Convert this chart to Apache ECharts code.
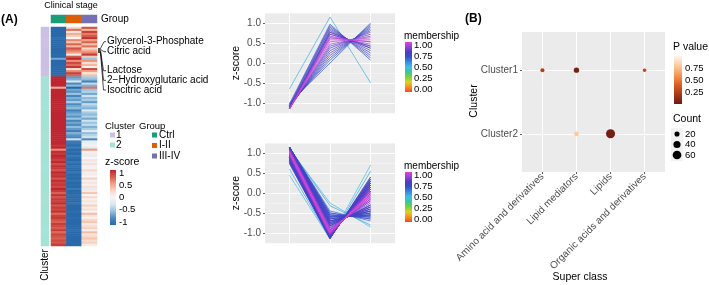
<!DOCTYPE html>
<html>
<head>
<meta charset="utf-8">
<script src="https://cdn.jsdelivr.net/npm/echarts@6.0.0/dist/echarts.min.js"></script>
<style>
html, body { margin: 0; padding: 0; background: #fff; }
#chart { width: 709px; height: 285px; }
</style>
</head>
<body>
<div id="chart"></div>
<script>
var stages = ['Ctrl', 'I-II', 'III-IV']

// cluster 1 metabolites: z-score per stage and fuzzy membership
var c1Ctrl = [-1.10, -1.14, -1.06, -1.15, -1.12, -1.00, -1.15, -1.13, -1.13, -1.14, -1.10, -1.15,
              -1.15, -1.03, -1.12, -0.65, -1.15, -1.08, -1.14, -1.03, -1.08, -1.15, -1.06, -1.13]
var c1Early = [0.25, 0.72, 0.13, 0.47, 0.31, 0.00, 0.63, 0.37, 0.77, 0.42, 0.85, 0.67,
               0.53, 0.07, 0.81, 1.15, 0.58, 0.89, 0.72, 0.97, 0.19, 0.63, 0.93, 0.77]
var c1Late = [0.85, 0.42, 0.93, 0.67, 0.81, 1.00, 0.53, 0.77, 0.37, 0.72, 0.25, 0.47,
              0.63, 0.97, 0.31, -0.50, 0.58, 0.19, 0.42, 0.07, 0.89, 0.53, 0.13, 0.37]
var c1Member = [0.77, 0.84, 0.73, 0.88, 0.79, 0.69, 0.94, 0.81, 0.81, 0.84, 0.77, 0.88,
                0.94, 0.71, 0.79, 0.53, 0.98, 0.75, 0.84, 0.71, 0.75, 0.94, 0.73, 0.81]

// cluster 2 metabolites
var c2Ctrl = [1.15, 1.15, 1.10, 1.13, 1.15, 0.45, 1.15, 1.14, 1.15, 1.12,
              1.15, 1.15, 1.15, 1.13, 1.15, 1.15, 1.10, 1.15, 1.15, 1.14,
              1.15, 1.12, 1.15, 1.13, 1.15, 1.15, 1.08, 1.15, 1.14, 1.12,
              1.12, 1.07, 1.05, 0.97, 1.08, 0.60, 1.02, 0.95, 1.07, 1.00,
              0.92, 1.05, 0.88, 1.02, 0.97, 0.85, 1.05, 0.95, 1.00, 0.82,
              1.02, 0.92, 0.97, 0.88, 1.07, 0.95, 0.78, 1.00, 0.85, 0.97,
              0.92, 1.02, 0.82, 0.95, 0.88, 1.00, 0.74, 0.92, 0.97, 0.85,
              0.78, 0.95, 0.88, 0.82, 0.97, 0.74, 0.92, 0.85, 0.78, 0.88,
              0.82, 0.95]
var c2Early = [-0.70, -0.60, -0.25, -0.78, -0.55, -1.15, -0.65, -0.74, -0.50, -0.82,
               -0.60, -0.70, -0.45, -0.78, -0.65, -0.55, -0.85, -0.70, -0.60, -0.74,
               -0.50, -0.82, -0.65, -0.78, -0.55, -0.70, -0.88, -0.60, -0.74, -0.82,
               -0.32, -0.92, -0.95, -1.02, -0.88, -1.15, -0.97, -1.05, -0.92, -1.00,
               -1.07, -0.95, -1.08, -0.97, -1.02, -1.10, -0.95, -1.05, -1.00, -1.12,
               -0.97, -1.07, -1.02, -1.08, -0.92, -1.05, -1.13, -1.00, -1.10, -1.02,
               -1.07, -0.97, -1.12, -1.05, -1.08, -1.00, -1.14, -1.07, -1.02, -1.10,
               -1.13, -1.05, -1.08, -1.12, -1.02, -1.14, -1.07, -1.10, -1.13, -1.08,
               -1.12, -1.05]
var c2Late = [-0.45, -0.55, -0.85, -0.35, -0.60, 0.70, -0.50, -0.40, -0.65, -0.30,
              -0.55, -0.45, -0.70, -0.35, -0.50, -0.60, -0.25, -0.45, -0.55, -0.40,
              -0.65, -0.30, -0.50, -0.35, -0.60, -0.45, -0.20, -0.55, -0.40, -0.30,
              -0.80, -0.15, -0.10, 0.05, -0.20, 0.55, -0.05, 0.10, -0.15, 0.00,
              0.15, -0.10, 0.20, -0.05, 0.05, 0.25, -0.10, 0.10, 0.00, 0.30,
              -0.05, 0.15, 0.05, 0.20, -0.15, 0.10, 0.35, 0.00, 0.25, 0.05,
              0.15, -0.05, 0.30, 0.10, 0.20, 0.00, 0.40, 0.15, 0.05, 0.25,
              0.35, 0.10, 0.20, 0.30, 0.05, 0.40, 0.15, 0.25, 0.35, 0.20,
              0.30, 0.10]
var c2Member = [0.76, 0.74, 0.52, 0.79, 0.72, 0.50, 0.75, 0.77, 0.70, 0.81,
                0.74, 0.76, 0.68, 0.79, 0.75, 0.72, 0.83, 0.76, 0.74, 0.77,
                0.70, 0.81, 0.75, 0.79, 0.72, 0.76, 0.86, 0.74, 0.77, 0.81,
                0.55, 0.90, 0.95, 0.90, 0.86, 0.56, 0.98, 0.86, 0.90, 0.95,
                0.83, 0.95, 0.81, 0.98, 0.90, 0.79, 0.95, 0.86, 0.95, 0.77,
                0.98, 0.83, 0.90, 0.81, 0.90, 0.86, 0.76, 0.95, 0.79, 0.90,
                0.83, 0.98, 0.77, 0.86, 0.81, 0.95, 0.75, 0.83, 0.90, 0.79,
                0.76, 0.86, 0.81, 0.77, 0.90, 0.75, 0.83, 0.79, 0.76, 0.81,
                0.77, 0.86]

var zTicks = [-1, -0.5, 0, 0.5, 1]
var memberTicks = [1, 0.75, 0.5, 0.25, 0]
var heatTicks = [1, 0.5, 0, -0.5, -1]

// enrichment (B)
var superClasses = ['Amino acid and derivatives', 'Lipid mediators', 'Lipids', 'Organic acids and derivatives']
var c1Pval = [0.22, 0.04, null, 0.28]
var c1Count = [12, 22, null, 9]
var c2Pval = [0.99, 0.80, 0.03, 0.99]
var c2Count = [7, 18, 65, 6]
var pTicks = [0.75, 0.5, 0.25]
var countTicks = [20, 40, 60]

var FONT = '"Liberation Sans", Arial, Helvetica, sans-serif'
var rdbu = ['#2A69A9', '#4A8AC0', '#96C1DD', '#D8E7F1', '#F6F6F6', '#FAD6C6', '#F1A285', '#D65F4C', '#BD2631']
var memberStops = [[0, '#F04A1E'], [0.1, '#F7901E'], [0.2, '#E0D020'], [0.3, '#78D236'], [0.4, '#36C89E'],
                   [0.5, '#3CC0E6'], [0.6, '#3A8CE0'], [0.7, '#3452C8'], [0.8, '#4C3CC2'], [0.9, '#9444D4'], [1, '#E244DA']]
var pStops = [[0, '#6A1B12'], [0.2, '#A73A1A'], [0.4, '#DA5E22'], [0.55, '#F08A45'], [0.75, '#FDBD8A'], [0.9, '#FEE0C8'], [1, '#FFF3E8']]

function hexRgb(h) {
    return [parseInt(h.slice(1, 3), 16), parseInt(h.slice(3, 5), 16), parseInt(h.slice(5, 7), 16)]
}
function stopColor(stops, t) {
    t = Math.max(stops[0][0], Math.min(stops[stops.length - 1][0], t))
    for (var k = 1; k < stops.length; k++) {
        if (t <= stops[k][0]) {
            var a = stops[k - 1], b = stops[k], f = (t - a[0]) / (b[0] - a[0])
            var ca = hexRgb(a[1]), cb = hexRgb(b[1])
            return 'rgb(' + [0, 1, 2].map(function (j) { return Math.round(ca[j] + (cb[j] - ca[j]) * f) }).join(',') + ')'
        }
    }
    return stops[stops.length - 1][1]
}
function symSize(c) { return 1.1 * Math.sqrt(c) + 0.2 }

// heatmap data
var rowsCtrl = c1Ctrl.concat(c2Ctrl)
var rowsEarly = c1Early.concat(c2Early)
var rowsLate = c1Late.concat(c2Late)
var rowIds = rowsCtrl.map(function (v, i) { return i })
var heatData = [], clusterData = []
for (var i = 0; i < rowsCtrl.length; i++) {
    heatData.push([0, i, rowsCtrl[i]], [1, i, rowsEarly[i]], [2, i, rowsLate[i]])
    clusterData.push([0, i, i < c1Ctrl.length ? 1 : 2])
}

// bubble data
var bubbleData = []
for (var j = 0; j < superClasses.length; j++) {
    if (c1Pval[j] != null) bubbleData.push([j + 1, 2, c1Pval[j], c1Count[j]])
    if (c2Pval[j] != null) bubbleData.push([j + 1, 1, c2Pval[j], c2Count[j]])
}

function lineSeries(ctrl, early, late, member, xi, yi) {
    var order = member.map(function (m, k) { return k }).sort(function (a, b) { return member[a] - member[b] })
    return order.map(function (k) {
        return {
            type: 'line', xAxisIndex: xi, yAxisIndex: yi, silent: true, animation: false,
            showSymbol: false, symbol: 'none',
            data: [[1, ctrl[k]], [2, early[k]], [3, late[k]]],
            lineStyle: { width: 0.7, color: stopColor(memberStops, member[k]) }
        }
    })
}

function txt(x, y, s, o) {
    o = o || {}
    return {
        type: 'text', x: x, y: y, rotation: o.rot || 0, silent: true, z: 100,
        style: {
            text: s, fontSize: o.size || 10, fontFamily: FONT, fontWeight: o.bold ? 'bold' : 'normal',
            fill: o.color || '#000', align: o.align || 'left', verticalAlign: 'middle'
        }
    }
}
function box(x, y, w, h, color) {
    return { type: 'rect', silent: true, z: 100, shape: { x: x, y: y, width: w, height: h }, style: { fill: color } }
}
function colorBar(x, y, w, h, stops) {
    var cs = stops.map(function (s) { return { offset: 1 - s[0], color: s[1] } }).reverse()
    return { type: 'rect', silent: true, z: 100, shape: { x: x, y: y, width: w, height: h },
             style: { fill: new echarts.graphic.LinearGradient(0, 0, 0, 1, cs) } }
}
function barLabels(x, top, h, lo, hi, ticks, fmt) {
    return ticks.map(function (v) {
        return txt(x, top + (1 - (v - lo) / (hi - lo)) * h, fmt(v), { size: 9.5 })
    })
}
function link(pts) {
    return { type: 'polyline', silent: true, z: 100, shape: { points: pts }, style: { stroke: '#000', lineWidth: 0.7, fill: null } }
}

var rdbuStops = rdbu.map(function (c, k) { return [k / (rdbu.length - 1), c] })

var graphics = [
    txt(1, 20, '(A)', { bold: true, size: 12 }),
    txt(71, 6, 'Clinical stage', { size: 9, align: 'center' }),
    txt(101, 19.5, 'Group'),
    txt(107, 41.7, 'Glycerol-3-Phosphate'),
    txt(107, 51.7, 'Citric acid'),
    txt(107, 70.7, 'Lactose'),
    txt(107, 80.3, '2\u2212Hydroxyglutaric acid'),
    txt(107, 90, 'Isocitric acid'),
    link([[98, 48.5], [100.5, 48.5], [104, 41.7], [106, 41.7]]),
    link([[98, 49.5], [100.5, 49.5], [104, 51.7], [106, 51.7]]),
    link([[98, 50.5], [100.5, 50.5], [103.5, 70.7], [106, 70.7]]),
    link([[98, 51.5], [100.5, 51.5], [103.5, 80.3], [106, 80.3]]),
    link([[98, 52.5], [100.5, 52.5], [103.5, 90], [106, 90]]),
    txt(105, 126, 'Cluster', { size: 9.5 }),
    box(110, 132.5, 5, 5, '#CBC0E4'), txt(116, 135, '1'),
    box(110, 142.5, 5, 5, '#A5E2D6'), txt(116, 145, '2'),
    txt(139, 126, 'Group', { size: 9.5 }),
    box(152, 132.5, 5, 5, '#1B9E77'), txt(159, 135, 'Ctrl'),
    box(152, 143, 5, 5, '#D95F02'), txt(159, 145.5, 'I-II'),
    box(152, 153.5, 5, 5, '#7570B3'), txt(159, 156, 'III-IV'),
    txt(105, 162, 'z-score', { size: 10.5 }),
    colorBar(110, 170, 6, 55, rdbuStops),
    txt(45, 265, 'Cluster', { rot: Math.PI / 2, align: 'center' }),
    txt(236, 63, 'z-score', { rot: Math.PI / 2, align: 'center', size: 10.5 }),
    txt(236, 193, 'z-score', { rot: Math.PI / 2, align: 'center', size: 10.5 }),
    txt(404, 36, 'membership'),
    colorBar(405, 42, 7, 50, memberStops),
    txt(404, 166, 'membership'),
    colorBar(405, 172, 7, 50, memberStops),
    txt(465, 19, '(B)', { bold: true, size: 12 }),
    txt(474, 101, 'Cluster', { rot: Math.PI / 2, align: 'center', size: 10.5 }),
    txt(580, 277, 'Super class', { align: 'center', size: 10.5 }),
    txt(673, 47, 'P value', { size: 10.5 }),
    colorBar(674, 56, 8, 48, pStops),
    txt(673, 119, 'Count', { size: 10.5 }),
    box(671, 128, 12, 33, '#F2F2F2')
]
graphics = graphics.concat(barLabels(119, 170, 55, -1.12, 1.12, heatTicks, function (v) { return String(v) }))
graphics = graphics.concat(barLabels(414, 42, 50, -0.06, 1.07, memberTicks, function (v) { return v.toFixed(2) }))
graphics = graphics.concat(barLabels(414, 172, 50, -0.06, 1.07, memberTicks, function (v) { return v.toFixed(2) }))
graphics = graphics.concat(barLabels(685, 56, 48, 0, 1, pTicks, function (v) { return v.toFixed(2) }))
countTicks.forEach(function (c, k) {
    var cy = 134 + k * 10.5
    graphics.push({ type: 'circle', silent: true, z: 100, shape: { cx: 677, cy: cy, r: symSize(c) / 2 }, style: { fill: '#000' } })
    graphics.push(txt(685, cy, String(c), { size: 9.5 }))
})

function yMinor(g) {
    return { gridIndex: g, type: 'value', min: -1.25, max: 1.25, interval: 0.25, position: 'left',
             axisLine: { show: false }, axisTick: { show: false }, axisLabel: { show: false },
             splitLine: { show: true, lineStyle: { color: '#F8F8F8', width: 0.6 } } }
}
function yMajor(g) {
    return { gridIndex: g, type: 'value', min: -1.25, max: 1.25, interval: 0.25, position: 'left',
             axisLine: { show: false },
             axisTick: { show: true, length: 2, customValues: zTicks, lineStyle: { color: '#333', width: 0.8 } },
             axisLabel: { customValues: zTicks, fontSize: 10, color: '#4D4D4D', fontFamily: FONT, margin: 4,
                          formatter: function (v) { return Math.abs(v * 2 - Math.round(v * 2)) < 1e-6 ? v.toFixed(1) : '' } },
             splitLine: { show: true, lineStyle: { color: '#FFFFFF', width: 1 } } }
}
function xLine(g) {
    return { gridIndex: g, type: 'value', min: 0.4, max: 3.6, minInterval: 1, maxInterval: 1,
             axisLine: { show: false }, axisTick: { show: false, customValues: [1, 2, 3] }, axisLabel: { show: false },
             splitLine: { show: true, lineStyle: { color: '#FFFFFF', width: 1 } } }
}

var option = {
    animation: false,
    grid: [
        { left: 51, top: 27, width: 46, height: 219, outerBoundsMode: 'none' },
        { left: 41, top: 27, width: 8, height: 219, outerBoundsMode: 'none' },
        { left: 51, top: 15, width: 46, height: 8, outerBoundsMode: 'none' },
        { left: 265, top: 13, width: 130, height: 100, show: true, backgroundColor: '#EBEBEB', borderWidth: 0, outerBoundsMode: 'none' },
        { left: 265, top: 143, width: 130, height: 100, show: true, backgroundColor: '#EBEBEB', borderWidth: 0, outerBoundsMode: 'none' },
        { left: 522, top: 32, width: 143, height: 140, show: true, backgroundColor: '#EBEBEB', borderWidth: 0, outerBoundsMode: 'none' }
    ],
    xAxis: [
        { gridIndex: 0, type: 'category', data: stages, show: false },
        { gridIndex: 1, type: 'category', data: ['Cluster'], show: false },
        { gridIndex: 2, type: 'category', data: stages, show: false },
        xLine(3),
        xLine(4),
        { gridIndex: 5, type: 'value', min: 0.4, max: 4.6, minInterval: 1, maxInterval: 1,
          axisLine: { show: false },
          axisTick: { show: true, length: 2, customValues: [1, 2, 3, 4], lineStyle: { color: '#333', width: 0.8 } },
          axisLabel: { customValues: [1, 2, 3, 4], rotate: 45, margin: 3, fontSize: 10, color: '#4D4D4D', fontFamily: FONT,
                       formatter: function (v) { return Math.abs(v - Math.round(v)) < 1e-6 && v >= 1 && v <= 4 ? superClasses[Math.round(v) - 1] : '' } },
          splitLine: { show: true, lineStyle: { color: '#FFFFFF', width: 1 } } }
    ],
    yAxis: [
        { gridIndex: 0, type: 'category', data: rowIds, inverse: true, show: false },
        { gridIndex: 1, type: 'category', data: rowIds, inverse: true, show: false },
        { gridIndex: 2, type: 'category', data: ['Group'], show: false },
        yMinor(3), yMajor(3),
        yMinor(4), yMajor(4),
        { gridIndex: 5, type: 'value', min: 0.4, max: 2.6, minInterval: 1, maxInterval: 1,
          axisLine: { show: false },
          axisTick: { show: true, length: 2, customValues: [1, 2], lineStyle: { color: '#333', width: 0.8 } },
          axisLabel: { customValues: [1, 2], margin: 4, fontSize: 10, color: '#4D4D4D', fontFamily: FONT,
                       formatter: function (v) { return v === 2 ? 'Cluster1' : (v === 1 ? 'Cluster2' : '') } },
          splitLine: { show: true, lineStyle: { color: '#FFFFFF', width: 1 } } }
    ],
    visualMap: [
        { type: 'continuous', show: false, seriesIndex: 0, dimension: 2, min: -1.05, max: 1.05, inRange: { color: rdbu } },
        { type: 'piecewise', show: false, seriesIndex: 1, dimension: 2,
          pieces: [{ value: 1, color: '#CBC0E4' }, { value: 2, color: '#A5E2D6' }] },
        { type: 'piecewise', show: false, seriesIndex: 2, dimension: 2,
          pieces: [{ value: 0, color: '#1B9E77' }, { value: 1, color: '#D95F02' }, { value: 2, color: '#7570B3' }] }
    ],
    graphic: graphics,
    series: [
        { type: 'heatmap', xAxisIndex: 0, yAxisIndex: 0, data: heatData, silent: true },
        { type: 'heatmap', xAxisIndex: 1, yAxisIndex: 1, data: clusterData, silent: true },
        { type: 'heatmap', xAxisIndex: 2, yAxisIndex: 2, data: [[0, 0, 0], [1, 0, 1], [2, 0, 2]], silent: true },
        { type: 'scatter', xAxisIndex: 5, yAxisIndex: 7, data: bubbleData, silent: true, z: 5,
          symbolSize: function (d) { return symSize(d[3]) },
          itemStyle: { opacity: 1, color: function (p) { return stopColor(pStops, p.value[2]) } } }
    ].concat(lineSeries(c1Ctrl, c1Early, c1Late, c1Member, 3, 4))
     .concat(lineSeries(c2Ctrl, c2Early, c2Late, c2Member, 4, 6))
}

var chart = echarts.init(document.getElementById('chart'))
chart.setOption(option)
</script>
</body>
</html>
